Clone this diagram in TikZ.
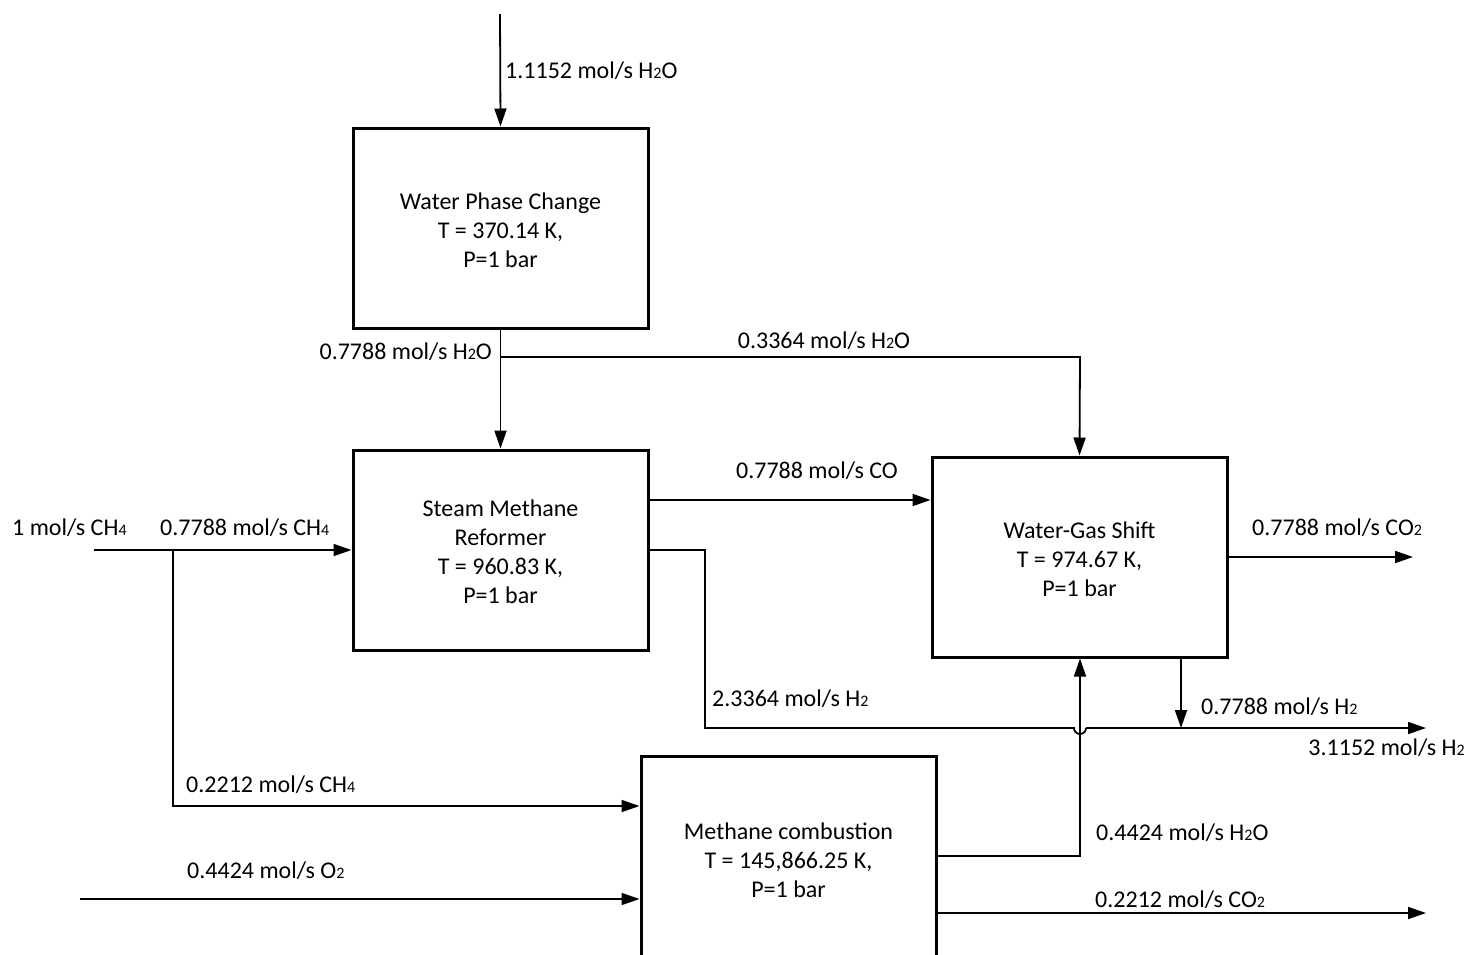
\documentclass[tikz,border=0pt]{standalone}
\usepackage{fontspec}
\setmainfont{Carlito}
\usetikzlibrary{arrows.meta}
\newcommand\chemsub[1]{{\fontsize{16}{16}\selectfont #1}}
\newcommand\boxtext[1]{\raisebox{-2pt}[\height][\depth]{\parbox{280pt}{\centering #1}}}
\tikzset{
  unitbox/.style={draw, line width=3pt, minimum width=295pt, minimum height=200pt, inner sep=0pt, align=center, font=\fontsize{24}{29}\selectfont},
  flow/.style={line width=1.8pt, -{Triangle[length=18pt,width=12pt]}},
  plain/.style={line width=1.8pt},
  lbl/.style={font=\fontsize{24}{29}\selectfont, inner sep=0pt},
}
\begin{document}
\begin{tikzpicture}[x=1pt,y=-1pt]
\useasboundingbox (0,0) rectangle (1467,954);
\clip (0,0) rectangle (1467,954);
% boxes
\node[unitbox] (wpc) at (500.5,228) {\boxtext{Water Phase Change\\T = 370.14 K,\\P=1 bar}};
\node[unitbox] (smr) at (500.5,550) {\boxtext{Steam Methane\\Reformer\\T = 960.83 K,\\P=1 bar}};
\node[unitbox] (wgs) at (1079.5,557) {\boxtext{Water-Gas Shift\\T = 974.67 K,\\P=1 bar}};
\node[unitbox, minimum height=204pt] (mc) at (788.5,858) {\boxtext{Methane combustion\\T = 145,866.25 K,\\P=1 bar}};
% coordinates
\coordinate (top) at (500,14);
\coordinate (split1) at (500,357);
\coordinate (c1) at (1080,357);
\coordinate (in1) at (94,550);
\coordinate (split2) at (173,550);
\coordinate (c2) at (173,806);
\coordinate (in2) at (80,899);
\coordinate (h2a) at (705,550);
\coordinate (h2b) at (705,728);
\coordinate (hopL) at (1074,728);
\coordinate (h2out) at (1426,728);
\coordinate (wgsb) at (1181,657);
\coordinate (wgsh) at (1181,728);
\coordinate (co2out) at (1413,557);
\coordinate (mcw) at (1080,856);
\coordinate (co2b) at (1426,913);
% flows
\draw[flow] (top) -- (wpc.north);
\draw[flow] (wpc.south) -- (smr.north);
\draw[flow] (split1) -- (c1) -- (wgs.north);
\draw[flow] (in1) -- (smr.west |- in1);
\draw[flow] (split2) -- (c2) -- (mc.west |- c2);
\draw[flow] (in2) -- (mc.west |- in2);
\draw[flow] (smr.east |- 0,500) -- (wgs.west |- 0,500);
\draw[plain] (smr.east |- h2a) -- (h2a) -- (h2b) -- (hopL) arc[start angle=180,end angle=0,radius=6] coordinate (hopR);
\draw[flow] (hopR) -- (h2out);
\draw[flow] (wgsb) -- (wgsh);
\draw[flow] (wgs.east |- co2out) -- (co2out);
\draw[flow] (mc.east |- mcw) -- (mcw) -- (wgs.south -| mcw);
\draw[flow] (mc.east |- co2b) -- (co2b);
% labels
\node[lbl, anchor=west] (l1) at (505,71) {1.1152 mol/s H\chemsub{2}O};
\node[lbl, anchor=east] (l2) at (492,352) {0.7788 mol/s H\chemsub{2}O};
\node[lbl] (l3) at (824,341) {0.3364 mol/s H\chemsub{2}O};
\node[lbl] (l4) at (817,471) {0.7788 mol/s CO};
\node[lbl, anchor=west] (l5) at (12,528) {1 mol/s CH\chemsub{4}};
\node[lbl, anchor=west] (l6) at (160,528) {0.7788 mol/s CH\chemsub{4}};
\node[lbl, anchor=west] (l7) at (1252,528) {0.7788 mol/s CO\chemsub{2}};
\node[lbl, anchor=west] (l8) at (712,699) {2.3364 mol/s H\chemsub{2}};
\node[lbl, anchor=west] (l9) at (1201,707) {0.7788 mol/s H\chemsub{2}};
\node[lbl, anchor=east] (l10) at (1465,748) {3.1152 mol/s H\chemsub{2}};
\node[lbl, anchor=west] (l11) at (186,785) {0.2212 mol/s CH\chemsub{4}};
\node[lbl, anchor=west] (l12) at (1096,833) {0.4424 mol/s H\chemsub{2}O};
\node[lbl, anchor=west] (l13) at (187,871) {0.4424 mol/s O\chemsub{2}};
\node[lbl, anchor=west] (l14) at (1095,900) {0.2212 mol/s CO\chemsub{2}};
\end{tikzpicture}
\end{document}
